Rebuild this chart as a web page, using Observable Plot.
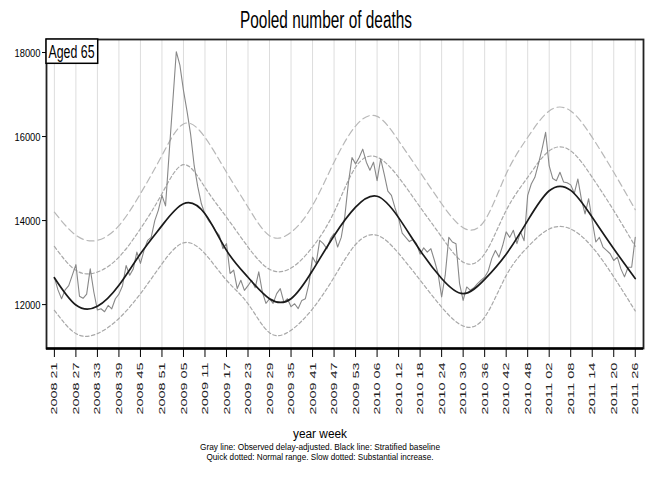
<!DOCTYPE html>
<html><head><meta charset="utf-8">
<script src="https://cdn.jsdelivr.net/npm/d3@7"></script>
<script src="https://cdn.jsdelivr.net/npm/@observablehq/plot@0.6"></script>
<style>
body{margin:0;background:#fff;}
#chart{position:relative;width:649px;height:480px;}
</style></head><body><div id="chart"></div>
<script>
// ---- data ----
const tickLabels = ["2008 21","2008 27","2008 33","2008 39","2008 45","2008 51","2009 05","2009 11","2009 17","2009 23","2009 29","2009 35","2009 41","2009 47","2009 53","2010 06","2010 12","2010 18","2010 24","2010 30","2010 36","2010 42","2010 48","2011 02","2011 08","2011 14","2011 20","2011 26"];

// weekly observed delay-adjusted deaths, starting 2008 week 21
const observed = [
12650,12350,12140,12350,12450,12700,12950,12200,12150,12250,
12850,12300,11870,11900,11830,11980,11900,12140,12250,12450,
12930,12700,12850,13250,12980,13290,13530,13600,14000,14250,
14600,14350,15600,16800,18020,17700,17100,16600,16050,15300,
14800,14400,14150,14000,13900,13750,13650,13330,13450,12740,
12820,12380,12580,12340,12450,12580,12400,12780,12300,12030,
12140,12030,12260,12380,12060,12140,11950,12020,11905,12100,
12140,12500,13130,12980,13530,13450,13330,13570,13690,13370,
13600,14100,14900,15500,15350,15500,15700,15390,15200,15390,
14950,15470,15100,14700,14600,14300,14050,13700,13600,13500,
13550,13450,13200,13350,13250,13330,13050,12740,12180,12700,
13600,13490,13450,12500,12100,12420,12340,12400,12500,12580,
12650,12800,13100,13290,13130,13400,13730,13600,13770,13450,
13730,13520,14600,14870,15030,15350,15700,16100,15300,15000,
14950,15150,14920,14900,14850,14650,14990,14500,14160,14520,
14000,13490,13600,13370,13290,13210,13050,13130,12850,12660,
12890,12890,13600];

// values at each labelled tick (every 6 weeks)
const baseline   = [12640,11990,11960,12460,13210,13880,14400,14160,13290,12650,12140,12140,12810,13640,14320,14580,14070,13290,12620,12260,12600,13200,14000,14710,14720,14080,13330,12620];
const upperSlow  = [14200,13650,13530,13880,14640,15550,16300,15980,15150,14320,13640,13720,14360,15390,16250,16480,15900,15150,14400,13830,14000,15110,15980,16610,16610,15980,15150,14260];
const upperQuick = [13385,12815,12775,13130,13805,14640,15330,14790,14080,13370,12840,12870,13370,14200,15270,15510,15030,14320,13610,13010,13210,14240,15030,15660,15660,15030,14240,13385];
const lowerQuick = [11865,11310,11310,11670,12260,12970,13470,13210,12580,12020,11330,11390,11900,12650,13430,13650,13220,12580,11940,11490,11700,12690,13370,13800,13800,13370,12660,11850];
const yTicks = [12000,14000,16000,18000];

const titleText = "Pooled number of deaths";
const panelText = "Aged 65";
const xTitle = "year week";
const caption1 = "Gray line: Observed delay-adjusted. Black line: Stratified baseline";
const caption2 = "Quick dotted: Normal range. Slow dotted: Substantial increase.";

// ---- build ----
const tickStep = 6;
const tickWeeks = tickLabels.map((_, k) => k * tickStep);
const obsRows = observed.map((v, i) => ({week: i, deaths: v}));
const tickRows = arr => arr.map((v, k) => ({week: tickWeeks[k], deaths: v}));

const FONT = '"Liberation Sans", Arial, sans-serif';
const W = 649, H = 480;
const M = {top: 39, right: 6, bottom: 132, left: 46};
const yDomain = [10955, 18310];

const plot = Plot.plot({
  width: W, height: H,
  marginTop: M.top, marginRight: M.right, marginBottom: M.bottom, marginLeft: M.left,
  style: {fontFamily: FONT, fontSize: "11px", background: "#fff", color: "#000", overflow: "visible"},
  x: {domain: [-2.2, 164.3]},
  y: {domain: yDomain},
  marks: [
    Plot.ruleX(tickWeeks, {stroke: "#dddddd", strokeWidth: 1}),
    Plot.line(tickRows(upperSlow), {x: "week", y: "deaths", curve: "natural", stroke: "#b8b8b8", strokeWidth: 1.2, strokeDasharray: "7,4"}),
    Plot.line(tickRows(upperQuick), {x: "week", y: "deaths", curve: "natural", stroke: "#a8a8a8", strokeWidth: 1.2, strokeDasharray: "3.5,2.5"}),
    Plot.line(tickRows(lowerQuick), {x: "week", y: "deaths", curve: "natural", stroke: "#a8a8a8", strokeWidth: 1.2, strokeDasharray: "3.5,2.5"}),
    Plot.line(obsRows, {x: "week", y: "deaths", stroke: "#888888", strokeWidth: 1.1}),
    Plot.line(tickRows(baseline), {x: "week", y: "deaths", curve: "natural", stroke: "#1a1a1a", strokeWidth: 1.7}),
    Plot.frame({stroke: "#222", strokeWidth: 1.8}),
    Plot.ruleY([yDomain[0]], {stroke: "#000", strokeWidth: 2.6}),
    Plot.axisY({ticks: yTicks, tickFormat: "d", tickSize: 4, tickPadding: 2, label: null, fontSize: 11.5}),
    Plot.axisX({ticks: tickWeeks, tickFormat: d => tickLabels[Math.round(d / tickStep)], tickRotate: -90, tickSize: 9, tickPadding: 5, label: null, fontSize: 9.5})
  ]
});

document.getElementById("chart").appendChild(plot);
const svg = d3.select(plot);

svg.selectAll('g[aria-label="y-axis tick label"] text')
  .attr("textLength", 26).attr("lengthAdjust", "spacingAndGlyphs").attr("dy", "0.1em");
svg.selectAll('g[aria-label="x-axis tick label"] text')
  .attr("textLength", 52).attr("lengthAdjust", "spacingAndGlyphs").attr("fill", "#222");

// panel label box
const box = svg.append("g");
box.append("rect").attr("x", M.left).attr("y", M.top).attr("width", 51.7).attr("height", 24.3)
  .attr("fill", "#fff").attr("stroke", "#000").attr("stroke-width", 1.5);
box.append("text").attr("x", M.left + 2.5).attr("y", M.top + 18.5).attr("font-size", 17.5)
  .attr("text-anchor", "start")
  .attr("textLength", 46).attr("lengthAdjust", "spacingAndGlyphs").attr("fill", "#000").text(panelText);

function addText(txt, x, y, size, len) {
  svg.append("text").attr("x", x).attr("y", y).attr("text-anchor", "middle")
    .attr("font-size", size).attr("textLength", len).attr("lengthAdjust", "spacingAndGlyphs")
    .attr("fill", "#000").text(txt);
}
addText(titleText, 326, 28, 23, 172);
addText(xTitle, 320, 438, 12, 54);
addText(caption1, 320, 449.5, 9.2, 240);
addText(caption2, 320, 460.2, 9.2, 227);
</script></body></html>
